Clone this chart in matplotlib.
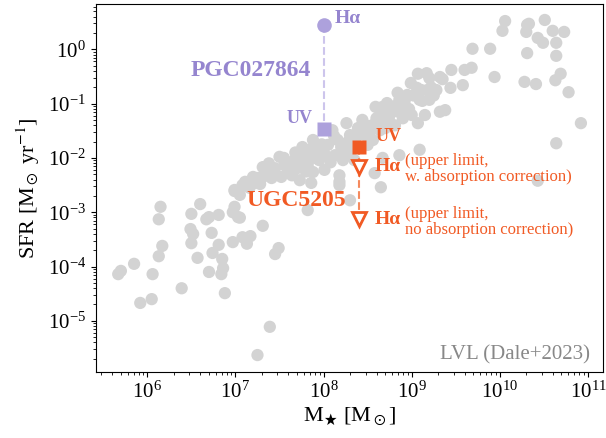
import numpy as np
import matplotlib
matplotlib.use("Agg")
import matplotlib.pyplot as plt

plt.rcParams['font.family'] = ['Liberation Serif', 'DejaVu Serif']
plt.rcParams['mathtext.fontset'] = 'stix'

# LVL sample (Dale+2023), log10 stellar mass / log10 SFR
lvl_logm = [6.15, 6.13, 6.60, 6.50, 6.67, 6.70, 6.81, 6.99, 7.03, 6.49, 6.52, 6.73,
            6.50, 6.17, 6.13, 6.57, 6.81, 6.97, 6.74, 6.85, 7.13, 7.17, 7.31, 7.49,
            7.45, 5.85, 5.70, 5.67, 6.06, 6.70, 6.86, 6.84, 6.39, 6.88, 6.05, 5.92,
            7.39, 7.25, 6.97, 7.05, 6.99, 7.08, 7.82, 8.30, 8.65, 8.18,
            # main sequence band
            6.99, 7.05, 7.11, 7.16, 7.22, 7.25, 7.31, 7.31, 7.36, 7.41, 7.45, 7.50,
            7.52, 7.56, 7.59, 7.64, 7.67, 7.70, 7.73, 7.76, 7.78, 7.82, 7.86, 7.88,
            7.88, 7.93, 7.95, 8.01, 8.05, 8.10, 8.13, 8.16, 8.18, 8.18, 8.22, 8.26,
            8.30, 8.32, 8.35, 8.39, 8.44, 8.47, 8.50, 8.55, 8.56, 8.59, 8.60, 8.64,
            8.58, 8.67, 8.72, 8.75, 8.78, 8.81, 8.84, 8.86, 8.90, 8.92, 8.95, 8.99,
            9.00, 9.06, 9.07, 9.07, 9.09, 9.11, 9.15, 9.17, 9.18, 9.20, 9.20, 9.28,
            9.32, 9.32, 9.35, 9.38, 9.45, 9.44, 9.58, 9.60, 9.68, 9.69, 9.89, 9.94,
            8.86, 8.67, 9.09,
            7.08, 7.20, 7.28, 7.38, 7.44, 7.55, 7.62, 7.68, 7.74, 7.80, 7.84, 7.90,
            7.98, 8.02, 8.08, 8.12, 8.20, 8.24, 8.28, 8.36, 8.40, 8.42, 8.48, 8.52,
            8.62, 8.66, 8.70, 8.74, 8.80, 8.85, 8.92, 8.97, 9.02, 9.12, 9.22, 9.25,
            # massive end
            10.06, 10.03, 10.31, 10.33, 10.30, 10.51, 10.60, 10.73, 10.43, 10.49,
            10.64, 10.31, 10.64, 10.28, 10.41, 10.63, 10.69, 10.78, 10.92, 10.64, 10.43]
lvl_logsfr = [-2.90, -3.13, -2.85, -3.03, -3.13, -3.09, -3.05, -2.90, -3.09, -3.31, -3.40, -3.38,
              -3.57, -3.62, -3.81, -3.84, -3.60, -3.55, -3.75, -3.86, -3.58, -3.44, -3.25, -3.66,
              -3.77, -3.95, -4.08, -4.14, -4.14, -4.10, -4.03, -4.14, -4.40, -4.49, -4.60, -4.67,
              -5.11, -5.63, -3.00, -3.10, -2.61, -3.46, -2.96, -2.78, -2.54, -2.44,
              -2.59, -2.68, -2.44, -2.55, -2.46, -2.37, -2.35, -2.17, -2.26, -2.37, -2.19, -1.98,
              -2.35, -2.13, -2.26, -2.32, -2.04, -2.19, -2.41, -1.80, -1.95, -2.13, -2.46, -2.26,
              -1.67, -1.85, -2.04, -2.22, -1.76, -1.49, -1.95, -1.67, -2.32, -2.50, -2.04, -1.36,
              -1.58, -1.85, -2.04, -1.45, -1.30, -1.58, -1.76, -1.40, -1.67, -1.06, -1.27, -1.49,
              -2.28, -1.06, -0.99, -1.21, -1.12, -1.40, -0.80, -0.93, -1.27, -1.03, -0.84, -0.62,
              -1.21, -0.71, -0.45, -1.36, -0.93, -0.75, -1.21, -0.44, -0.75, -0.53, -0.93, -0.75,
              -0.51, -1.15, -0.55, -1.12, -0.38, -0.71, -0.66, -0.38, -0.34, 0.01, 0.01, -0.51,
              -1.95, -2.00, -1.85,
              -2.50, -2.35, -2.48, -2.10, -2.30, -2.00, -2.15, -1.90, -2.08, -2.25, -1.85, -2.00,
              -1.75, -1.95, -2.08, -1.60, -1.80, -1.95, -1.70, -1.65, -1.80, -1.55, -1.40, -1.55,
              -1.35, -1.20, -1.45, -1.30, -1.05, -1.15, -0.95, -1.10, -0.85, -0.95, -0.70, -0.85,
              0.52, 0.34, 0.45, 0.47, 0.32, 0.54, 0.34, 0.32, 0.21, 0.12,
              0.12, -0.07, -0.12, -0.60, -0.64, -0.57, -0.45, -0.79, -1.36, -1.73, -2.42]

# PGC027864
pgc_mass = 1.0e8
pgc_sfr_ha = 2.8
pgc_sfr_uv = 0.034

# UGC5205
ugc_mass = 2.5e8
ugc_sfr_uv = 0.0157
ugc_sfr_ha_corr = 6.9e-3
ugc_sfr_ha_nocorr = 7.4e-4

purple = '#ada1dc'
purple_txt = '#9585cf'
orange = '#f15a24'

fig = plt.figure(figsize=(6.06, 4.38), dpi=100)
ax = fig.add_axes([0.158, 0.151, 0.837, 0.841])

ax.scatter(10**np.array(lvl_logm), 10**np.array(lvl_logsfr), s=78,
           color='#d3d3d3', edgecolors='none', zorder=1)

# PGC027864
ax.plot([pgc_mass, pgc_mass], [pgc_sfr_ha, pgc_sfr_uv], ls='--', color='#cdc5ec',
        lw=1.5, zorder=2)
ax.plot(pgc_mass, pgc_sfr_ha, 'o', ms=10.5, color=purple, mec='none', zorder=3)
ax.plot(pgc_mass, pgc_sfr_uv, 's', ms=9.5, color=purple, mec='none', zorder=3)
ax.annotate('Hα', (pgc_mass, pgc_sfr_ha), xytext=(7.7, 5), textcoords='offset points',
            ha='left', va='center', fontsize=14, fontweight='bold', color=purple_txt)
ax.annotate('UV', (pgc_mass, pgc_sfr_uv), xytext=(-8, 7.6), textcoords='offset points',
            ha='right', va='center', fontsize=13, fontweight='bold', color=purple_txt)
ax.annotate('PGC027864', (pgc_mass, pgc_sfr_ha), xytext=(-9, -32.4),
            textcoords='offset points', ha='right', va='center', fontsize=17,
            fontweight='bold', color=purple_txt)

# UGC5205
ax.plot([ugc_mass] * 3, [ugc_sfr_uv, ugc_sfr_ha_corr, ugc_sfr_ha_nocorr], ls='--',
        color='#f58a5e', lw=1.5, zorder=2)
ax.plot(ugc_mass, ugc_sfr_uv, 's', ms=10, color=orange, mec='none', zorder=3)
ax.plot([ugc_mass, ugc_mass], [ugc_sfr_ha_corr, ugc_sfr_ha_nocorr], 'v', ms=10,
        mfc='white', mec=orange, mew=2, ls='none', zorder=3)
ax.annotate('UV', (ugc_mass, ugc_sfr_uv), xytext=(12.5, 7.6), textcoords='offset points',
            ha='left', va='center', fontsize=13, fontweight='bold', color=orange)
for sfr, note in [(ugc_sfr_ha_corr, '(upper limit,\nw. absorption correction)'),
                  (ugc_sfr_ha_nocorr, '(upper limit,\nno absorption correction)')]:
    ax.annotate('Hα', (ugc_mass, sfr), xytext=(11.8, 0), textcoords='offset points',
                ha='left', va='center', fontsize=14, fontweight='bold', color=orange)
    ax.annotate(note, (ugc_mass, sfr), xytext=(33.6, -1.8), textcoords='offset points',
                ha='left', va='center', fontsize=12, color=orange, linespacing=0.95)
ax.annotate('UGC5205', (ugc_mass, ugc_sfr_ha_nocorr), xytext=(-8.9, 13.9),
            textcoords='offset points', ha='right', va='center', fontsize=17,
            fontweight='bold', color=orange)

ax.text(0.975, 0.045, 'LVL (Dale+2023)', transform=ax.transAxes, ha='right',
        va='center', fontsize=15, color='#888888')

ax.set_xscale('log')
ax.set_yscale('log')
ax.set_xlim(2.6e5, 1.48e11)
ax.set_ylim(1.15e-6, 6.97)
ax.tick_params(labelsize=15)
ax.set_xlabel(r'M$_\bigstar$ [M$_\odot$]', fontsize=16, labelpad=2)
ax.set_ylabel(r'SFR [M$_\odot$ yr$^{-1}$]', fontsize=16)

fig.savefig('out.png', dpi=100)
